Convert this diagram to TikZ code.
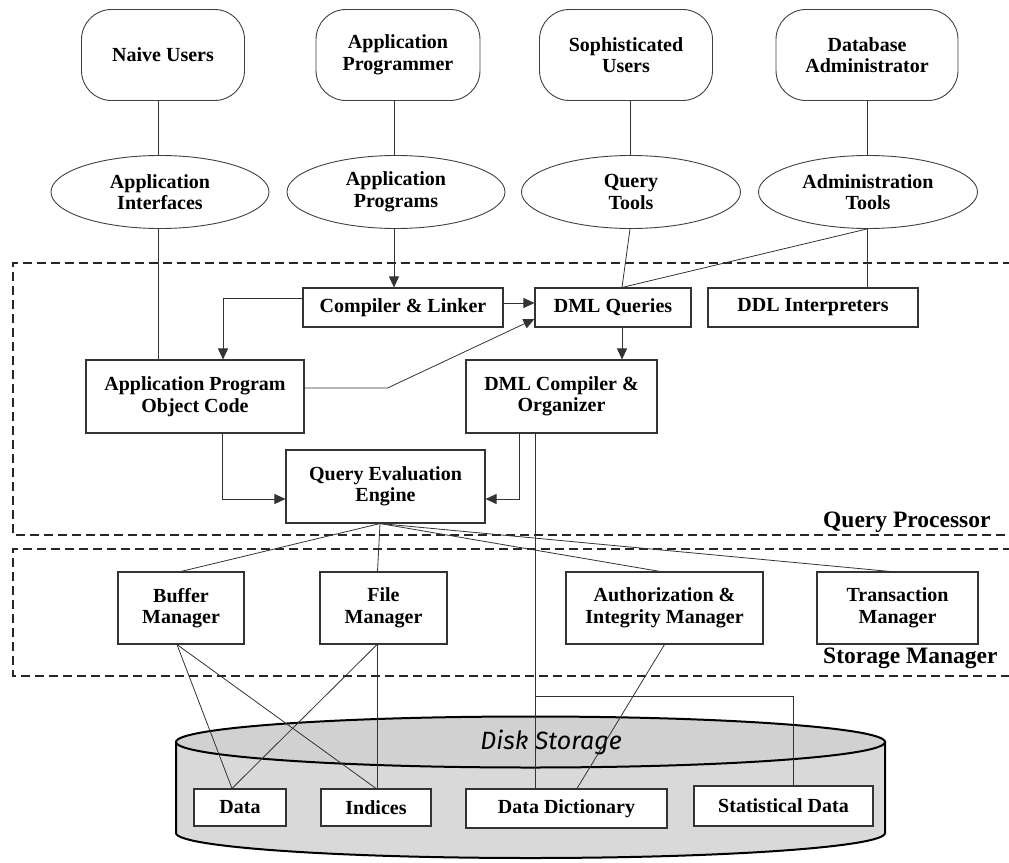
\documentclass[tikz,border=0pt]{standalone}
\usepackage{fontspec}
\setmainfont{Liberation Serif}
\newfontfamily\handfont{Fira Sans}
\usetikzlibrary{shapes.geometric,arrows.meta,calc}
\begin{document}
\begin{tikzpicture}[x=1pt,y=-1pt,
  every node/.style={font=\bfseries\fontsize{20}{21.5}\selectfont, align=center, inner sep=0pt},
  actor/.style={draw=black!75, line width=0.9pt, rounded corners=30pt, minimum height=91pt},
  tool/.style={draw=black!75, line width=0.9pt, ellipse, minimum width=218pt, minimum height=73pt},
  box/.style={draw=black!80, line width=1.1pt, fill=white},
  link/.style={draw=black!80, line width=0.8pt},
  arr/.style={link, -{Triangle[length=11pt,width=10pt]}},
  zone/.style={draw=black!85, line width=1.8pt, dash pattern=on 9pt off 5pt},
  zonelabel/.style={font=\bfseries\fontsize{23.5}{26}\selectfont, anchor=base west}
]
\useasboundingbox (0,0) rectangle (1009,862);

% disk storage cylinder
\path[fill=gray!30, draw=black, line width=2pt] (176,742) -- (176,833)
  arc[start angle=180, end angle=0, x radius=354.5, y radius=25] -- (885,742) -- cycle;
\path[fill=gray!36, draw=black, line width=2pt] (530.5,742) ellipse [x radius=354.5, y radius=25.5];
\node[font=\handfont\itshape\fontsize{25}{27}\selectfont] (ds) at (551,742) {Disk Storage};

% zones
\draw[zone] (1012,263) -- (13,263) -- (13,535) -- (1012,535);
\draw[zone] (1012,549) -- (13,549) -- (13,676) -- (1012,676);
\node[zonelabel] (qpl) at (823,527) {Query Processor};
\node[zonelabel] (sml) at (823,663) {Storage Manager};

% users
\node[actor, minimum width=163pt] (nu) at (163,55) {Naive Users};
\node[actor, minimum width=164pt] (ap) at (398,55) {Application\\Programmer};
\node[actor, minimum width=173pt] (su) at (626,55) {Sophisticated\\Users};
\node[actor, minimum width=182pt] (da) at (867,55) {Database\\Administrator};

% tools
\node[tool] (ai) at (160,192) {Application\\Interfaces};
\node[tool] (apg) at (396,192) {Application\\Programs};
\node[tool, minimum width=219pt] (qt) at (631,192) {Query\\Tools};
\node[tool, minimum width=219pt] (at) at (868,192) {Administration\\Tools};

% query processor
\node[box, minimum width=200pt, minimum height=39pt] (cl) at (403,307.5) {Compiler \& Linker};
\node[box, minimum width=156pt, minimum height=39pt] (dq) at (613,307.5) {DML Queries};
\node[box, minimum width=210pt, minimum height=39pt] (ddl) at (813,307.5) {DDL Interpreters};
\node[box, minimum width=218pt, minimum height=73pt] (oc) at (195,396.5) {Application Program\\Object Code};
\node[box, minimum width=191pt, minimum height=73pt] (dc) at (561.5,396.5) {DML Compiler \&\\Organizer};
\node[box, minimum width=199pt, minimum height=73pt] (qe) at (385.5,486.5) {Query Evaluation\\Engine};

% storage manager
\node[box, minimum width=126pt, minimum height=72pt] (bm) at (181,608) {Buffer\\Manager};
\node[box, minimum width=127pt, minimum height=72pt] (fm) at (383.5,608) {File\\Manager};
\node[box, minimum width=197pt, minimum height=72pt] (aim) at (664.5,608) {Authorization \&\\Integrity Manager};
\node[box, minimum width=161pt, minimum height=72pt] (tm) at (897.5,608) {Transaction\\Manager};

% disk items
\node[box, minimum width=92pt, minimum height=37pt] (d) at (240,807.5) {Data};
\node[box, minimum width=110pt, minimum height=37pt] (ix) at (376,807.5) {Indices};
\node[box, minimum width=201pt, minimum height=39pt] (dd) at (566.5,808.5) {Data Dictionary};
\node[box, minimum width=179pt, minimum height=40pt] (sd) at (783.5,806) {Statistical Data};

% users to tools
\draw[link] ([xshift=-5pt]nu.south) -- ([xshift=-2pt]ai.north);
\draw[link] ([xshift=-4pt]ap.south) -- ([xshift=-2pt]apg.north);
\draw[link] ([xshift=4pt]su.south) -- ([xshift=-1pt]qt.north);
\draw[link] (da.south) -- ([xshift=-1pt]at.north);

% tools to query processor
\draw[link] ([xshift=-2pt]ai.south) -- ([xshift=-2pt]ai.south |- oc.north);
\draw[arr] ([xshift=-2pt]apg.south) -- ([xshift=-2pt]apg.south |- cl.north);
\draw[link] ([xshift=-1pt]qt.south) -- ([xshift=9pt]dq.north);
\draw[link] ([xshift=-1pt]at.south) -- ([xshift=-1pt]at.south |- ddl.north);
\draw[link] ([xshift=-1pt]at.south) -- ([xshift=9pt]dq.north);

% inside query processor
\draw[arr] ([yshift=9.5pt]cl.west) -| ([xshift=28pt]oc.north);
\draw[arr] ([yshift=4.5pt]cl.east) -- ([yshift=4.5pt]cl.east -| dq.west);
\draw[arr] ([yshift=8.5pt]oc.east) -- ++(83,0) -- ([yshift=-11.5pt]dq.west);
\draw[arr] ([xshift=9pt]dq.south) -- ([xshift=9pt]dq.south |- dc.north);
\draw[arr] ([xshift=27pt]oc.south) |- ([yshift=-12.5pt]qe.west);
\draw[arr] ([xshift=-42.5pt]dc.south) |- ([yshift=-12.5pt]qe.east);

% DML compiler to disk
\draw[link] ([xshift=-26.5pt]dc.south) -- ([xshift=-26.5pt]dc.south |- dd.north);
\coordinate (br) at (535,696);
\draw[link] (br) -| ([xshift=9.5pt]sd.north);

% query evaluation engine to storage manager
\coordinate (qs) at ([xshift=-5.5pt]qe.south);
\draw[link] (qs) -- (bm.north);
\draw[link] (qs) -- ([xshift=-6pt]fm.north);
\draw[link] (qs) -- ([xshift=-4.5pt]aim.north);
\draw[link] (qs) -- ([xshift=-7.5pt]tm.north);

% storage manager to disk
\coordinate (bs) at ([xshift=-4pt]bm.south);
\draw[link] (bs) -- ([xshift=-8pt]d.north);
\draw[link] (bs) -- (ix.north);
\coordinate (fs) at ([xshift=-6.5pt]fm.south);
\draw[link] (fs) -- ([xshift=-8pt]d.north);
\draw[link] (fs) -- (fs |- ix.north);
\draw[link] (aim.south) -- ([xshift=10.5pt]dd.north);
\end{tikzpicture}
\end{document}
